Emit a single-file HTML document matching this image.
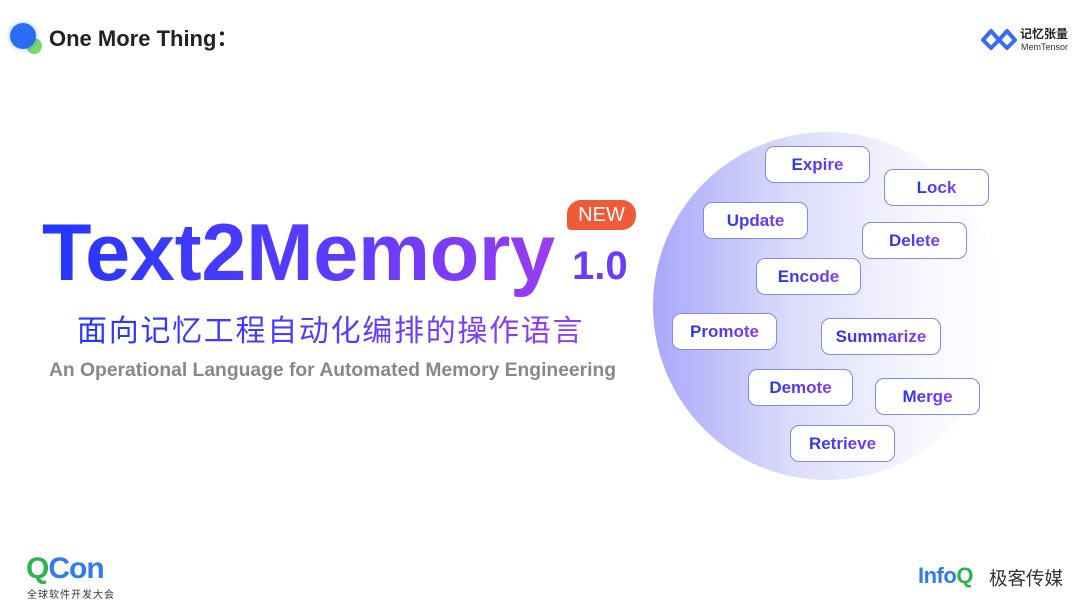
<!DOCTYPE html>
<html><head><meta charset="utf-8"><style>
body{margin:0;width:1080px;height:603px;background:#fff;position:relative;overflow:hidden;font-family:"Liberation Sans","Noto Sans CJK SC",sans-serif}
.a{position:absolute}
.grad{background:linear-gradient(90deg,#2336ff 0%,#5a3cff 55%,#9b3cf0 100%);-webkit-background-clip:text;background-clip:text;color:transparent}
.box{position:absolute;width:103px;height:35px;border:1.5px solid #7f8af5;border-radius:9px;background:#fff;display:flex;align-items:center;justify-content:center;font-weight:bold;font-size:17px}
.box span{background:linear-gradient(90deg,#2a36f0,#6a3cf0 70%,#8b3cf0);-webkit-background-clip:text;background-clip:text;color:transparent}
</style></head><body>
<div class="a" style="left:26px;top:38px;width:16px;height:16px;border-radius:50%;background:#7ad86a"></div>
<div class="a" style="left:10px;top:23px;width:26px;height:26px;border-radius:50%;background:#2a6cf5;box-shadow:0 0 6px rgba(42,108,245,.4)"></div>
<div class="a" style="left:49px;top:26px;font-size:22px;line-height:26px;font-weight:bold;color:#222">One More Thing：</div>

<svg class="a" style="left:980px;top:26px" width="38" height="24" viewBox="0 0 38 24"><path d="M3 14 L11 5 L19 14 L27 5 L35 14 L27 22 L19 14 L11 22 Z" fill="none" stroke="#3a6cf0" stroke-width="4" stroke-linejoin="round"/></svg>
<div class="a" style="left:1020px;top:25px;font-size:12px;font-weight:bold;color:#222">记忆张量</div>
<div class="a" style="left:1021px;top:42px;font-size:9px;color:#333">MemTensor</div>

<div class="a" style="left:653px;top:132px;width:348px;height:348px;border-radius:50%;background:linear-gradient(90deg,#a9a8fb 0%,#dcdcfb 40%,#f6f6ff 75%,#fff 100%)"></div>

<div class="a grad" style="left:42px;top:205px;font-size:81px;font-weight:bold;line-height:96px;letter-spacing:-0.3px">Text2Memory</div>
<div class="a" style="left:567px;top:200px;width:69px;height:30px;background:#ef5a38;border-radius:14px 14px 14px 4px;color:#fff;font-size:20px;line-height:30px;text-align:center">NEW</div>
<div class="a" style="left:572px;top:244px;font-size:40px;font-weight:bold;color:#6a3cf5">1.0</div>
<div class="a grad" style="left:77px;top:313px;font-size:30px;line-height:38px;white-space:nowrap;letter-spacing:1.7px">面向记忆工程自动化编排的操作语言</div>
<div class="a" style="left:49px;top:360px;font-size:19.3px;font-weight:bold;color:#888;white-space:nowrap">An Operational Language for Automated Memory Engineering</div>

<div class="box" style="left:765px;top:146px"><span>Expire</span></div>
<div class="box" style="left:884px;top:169px"><span>Lock</span></div>
<div class="box" style="left:703px;top:202px"><span>Update</span></div>
<div class="box" style="left:862px;top:222px"><span>Delete</span></div>
<div class="box" style="left:756px;top:258px"><span>Encode</span></div>
<div class="box" style="left:672px;top:313px"><span>Promote</span></div>
<div class="box" style="left:821px;top:318px;width:118px"><span>Summarize</span></div>
<div class="box" style="left:748px;top:369px"><span>Demote</span></div>
<div class="box" style="left:875px;top:378px"><span>Merge</span></div>
<div class="box" style="left:790px;top:425px"><span>Retrieve</span></div>

<div class="a" style="left:26px;top:552px;font-size:30px;font-weight:bold;line-height:34px;letter-spacing:-1px"><span style="color:#2fb34a">Q</span><span style="color:#2f7cf0">Con</span></div>
<div class="a" style="left:27px;top:586px;font-size:10px;color:#333;letter-spacing:1px">全球软件开发大会</div>
<div class="a" style="left:918px;top:563px;font-size:22px;font-weight:bold;color:#2f7cf0;letter-spacing:-0.5px">Info<span style="color:#2fb34a">Q</span></div>
<div class="a" style="left:989px;top:565px;font-size:18.5px;color:#333">极客传媒</div>
</body></html>
